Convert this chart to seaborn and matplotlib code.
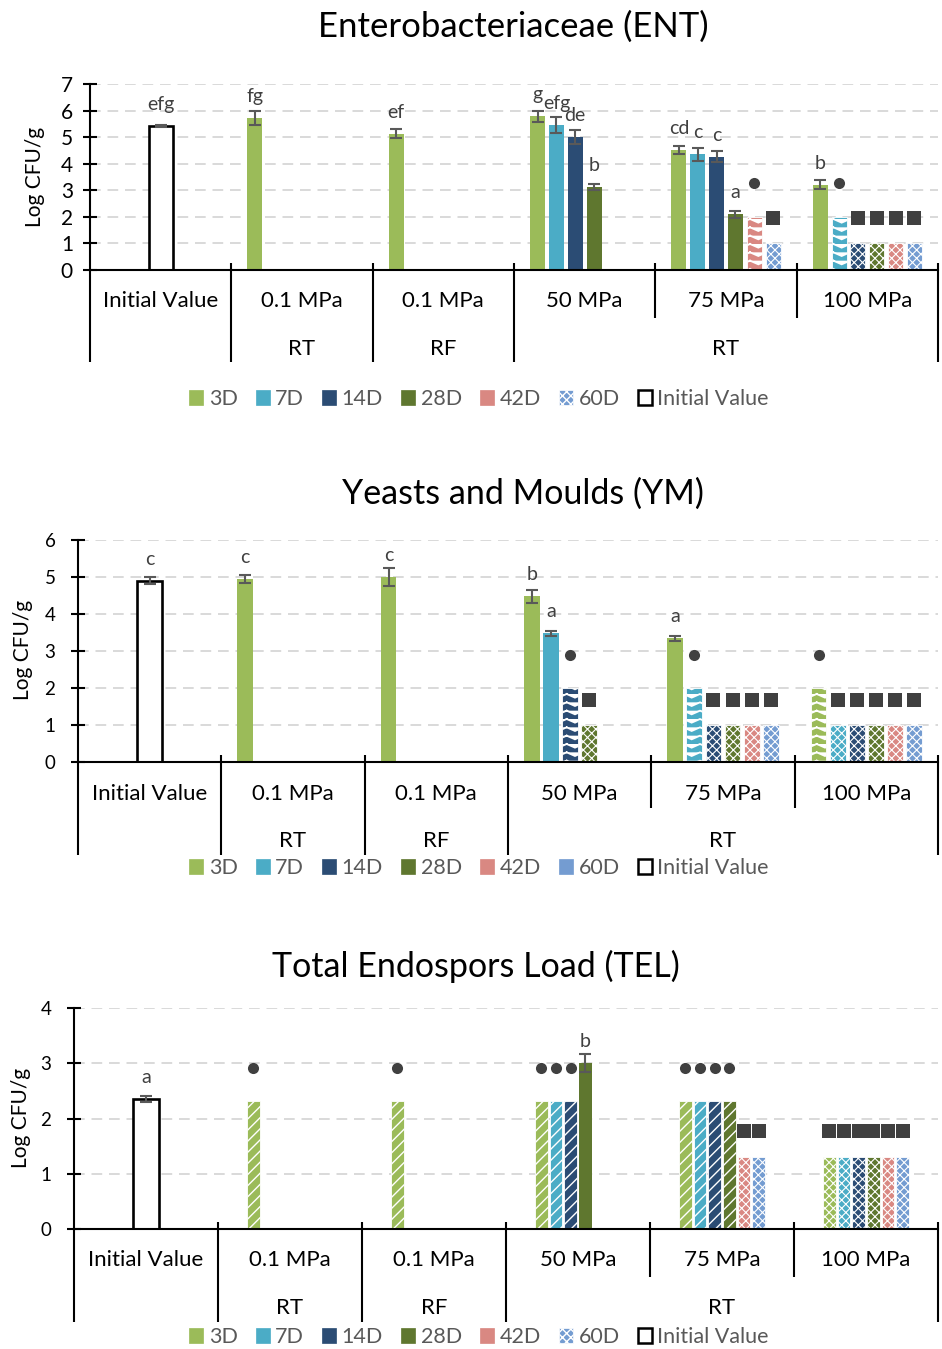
import warnings
import numpy as np
import pandas as pd
import matplotlib
matplotlib.use("Agg")
import matplotlib.pyplot as plt
import matplotlib.hatch as mhatch
import matplotlib.transforms as mtransforms
from matplotlib.path import Path
from matplotlib.patches import Patch
import seaborn as sns

warnings.filterwarnings("ignore")

# ---------------------------------------------------------------- data
groups = ["Initial Value", "0.1 MPa RT", "0.1 MPa RF", "50 MPa", "75 MPa", "100 MPa"]
group_labels = ["Initial Value", "0.1 MPa", "0.1 MPa", "50 MPa", "75 MPa", "100 MPa"]
storage = [None, "RT", "RF", "RT", "RT", "RT"]
days = ["3D", "7D", "14D", "28D", "42D", "60D"]

ent_group = ["0.1 MPa RT", "0.1 MPa RF"] + ["50 MPa"] * 4 + ["75 MPa"] * 6 + ["100 MPa"] * 6
ent_day = ["3D", "3D", "3D", "7D", "14D", "28D"] + days + days
ent_value = [5.72, 5.12, 5.78, 5.46, 5.00, 3.12,
             4.50, 4.35, 4.27, 2.09, 2.0, 1.0,
             3.21, 2.0, 1.0, 1.0, 1.0, 1.0]
ent_error = [0.27, 0.17, 0.21, 0.29, 0.26, 0.11,
             0.15, 0.25, 0.22, 0.12, 0, 0,
             0.18, 0, 0, 0, 0, 0]
ent_label = ["fg", "ef", "g", "efg", "de", "b",
             "cd", "c", "c", "a", "●", "■",
             "b", "●", "■", "■", "■", "■"]
ent_initial = (5.43, 0.03, "efg")

ym_group = ["0.1 MPa RT", "0.1 MPa RF"] + ["50 MPa"] * 4 + ["75 MPa"] * 6 + ["100 MPa"] * 6
ym_day = ["3D", "3D", "3D", "7D", "14D", "28D"] + days + days
ym_value = [4.94, 4.99, 4.48, 3.48, 2.0, 1.0,
            3.34, 2.0, 1.0, 1.0, 1.0, 1.0,
            2.0, 1.0, 1.0, 1.0, 1.0, 1.0]
ym_error = [0.11, 0.24, 0.17, 0.07, 0, 0,
            0.06, 0, 0, 0, 0, 0,
            0, 0, 0, 0, 0, 0]
ym_label = ["c", "c", "b", "a", "●", "■",
            "a", "●", "■", "■", "■", "■",
            "●", "■", "■", "■", "■", "■"]
ym_initial = (4.90, 0.10, "c")

tel_group = ["0.1 MPa RT", "0.1 MPa RF"] + ["50 MPa"] * 4 + ["75 MPa"] * 6 + ["100 MPa"] * 6
tel_day = ["3D", "3D", "3D", "7D", "14D", "28D"] + days + days
tel_value = [2.31, 2.31, 2.31, 2.31, 2.31, 3.01,
             2.31, 2.31, 2.31, 2.31, 1.31, 1.31,
             1.31, 1.31, 1.31, 1.31, 1.31, 1.31]
tel_error = [0, 0, 0, 0, 0, 0.16,
             0, 0, 0, 0, 0, 0,
             0, 0, 0, 0, 0, 0]
tel_label = ["●", "●", "●", "●", "●", "b",
             "●", "●", "●", "●", "■", "■",
             "■", "■", "■", "■", "■", "■"]
tel_initial = (2.35, 0.05, "a")

day_colors = {"3D": "#9BBB59", "7D": "#4BACC6", "14D": "#2B4C74",
              "28D": "#5F772F", "42D": "#D98882", "60D": "#749CD1"}


# ---------------------------------------------------------------- zigzag hatch ('v')
class ChevronHatch(mhatch.HatchPatternBase):
    def __init__(self, hatch, density):
        n = hatch.count("v")
        self.num_rows = int(n * density)
        self.num_cols = int(density) if n else 0
        self.num_vertices = self.num_rows * self.num_cols * 3

    def set_vertices_and_codes(self, vertices, codes):
        dy = 1.0 / self.num_rows
        dx = 1.0 / self.num_cols
        k = 0
        for r in range(self.num_rows):
            ytop = (r + 0.5) * dy + 0.22 * dy
            ybot = ytop - 0.44 * dy
            for c in range(self.num_cols):
                vertices[k] = (c * dx, ytop)
                vertices[k + 1] = ((c + 0.5) * dx, ybot)
                vertices[k + 2] = ((c + 1) * dx, ytop)
                codes[k] = Path.MOVETO
                codes[k + 1] = Path.LINETO
                codes[k + 2] = Path.LINETO
                k += 3


mhatch._hatch_types.append(ChevronHatch)

# ---------------------------------------------------------------- style
sns.set_theme(style="white")
plt.rcParams["font.family"] = ["Lato", "DejaVu Sans"]
plt.rcParams["hatch.linewidth"] = 1.0

FIG_W, FIG_H = 942, 1349
fig = plt.figure(figsize=(FIG_W / 100, FIG_H / 100), dpi=100)


def fx(px):
    return px / FIG_W


def fy(py):
    return 1 - py / FIG_H


TEXT_DARK = "#404040"
CHECK_HATCH = "xxxx"
HATCH_WIDTH = {"vv": 1.3, "///": 1.0, CHECK_HATCH: 0.8}

panels = [
    dict(title="Enterobacteriaceae (ENT)", title_xy=(513, 27), box=(90, 84, 938, 270), ymax=7,
         sep_mid=318, sep_bot=362, row1=301, row2=349, legend_y=399, ylabel_xy=(35, 177),
         tick_size=15, tick_pad=7, width=0.8, gap=0.2, init_width=0.17, dot_hatch="vv",
         title_size=25, legend_check=True,
         data=(ent_group, ent_day, ent_value, ent_error, ent_label, ent_initial)),
    dict(title="Yeasts and Moulds (YM)", title_xy=(523, 494), box=(78, 540, 938, 762), ymax=6,
         sep_mid=808, sep_bot=855, row1=794, row2=841, legend_y=868, ylabel_xy=(23, 650),
         tick_size=13.5, tick_pad=11, width=0.8, gap=0.17, init_width=0.17, dot_hatch="vv",
         title_size=24.5, legend_check=False,
         data=(ym_group, ym_day, ym_value, ym_error, ym_label, ym_initial)),
    dict(title="Total Endospors Load (TEL)", title_xy=(476, 966), box=(74, 1008, 938, 1229), ymax=4,
         sep_mid=1277, sep_bot=1322, row1=1260, row2=1308, legend_y=1337, ylabel_xy=(21, 1118),
         tick_size=13.5, tick_pad=11, width=0.61, gap=0.13, init_width=0.175, dot_hatch="///",
         title_size=24.5, legend_check=True,
         data=(tel_group, tel_day, tel_value, tel_error, tel_label, tel_initial)),
]

for p in panels:
    left, top, right, bottom = p["box"]
    ax = fig.add_axes([fx(left), fy(bottom), fx(right) - fx(left), fy(top) - fy(bottom)])
    g_col, d_col, v_col, e_col, l_col, (init_v, init_e, init_l) = p["data"]
    df = pd.DataFrame({"group": g_col, "day": d_col, "value": v_col,
                       "err": e_col, "label": l_col})

    sns.barplot(data=df, x="group", y="value", hue="day", order=groups, hue_order=days,
                palette=day_colors, width=p["width"], gap=p["gap"], errorbar=None,
                saturation=1, linewidth=0, legend=False, ax=ax, zorder=2)

    bars = list(ax.patches)
    slot = p["width"] / len(days)
    centers, tops = [], []
    for _, row in df.iterrows():
        gi = groups.index(row["group"])
        di = days.index(row["day"])
        cx = gi + (di - (len(days) - 1) / 2) * slot
        patch = min(bars, key=lambda b: abs(b.get_x() + b.get_width() / 2 - cx)
                    + abs(b.get_height() - row["value"]))
        cx = patch.get_x() + patch.get_width() / 2
        centers.append(cx)
        tops.append(patch.get_height())
        hatch = None
        if row["label"] == "●":
            hatch = p["dot_hatch"]
        elif row["label"] == "■":
            hatch = CHECK_HATCH
        if hatch:
            patch.set_hatch(hatch)
            patch.set_edgecolor("white")
            patch.set_linewidth(0.6)
            if hasattr(patch, "set_hatch_linewidth"):
                patch.set_hatch_linewidth(HATCH_WIDTH[hatch])
    df["cx"] = centers
    df["top"] = tops

    # initial value bar (its own series, centred in the first group)
    sns.barplot(x=["Initial Value"], y=[init_v], order=groups, color="white",
                width=p["init_width"], errorbar=None, saturation=1,
                edgecolor="black", linewidth=1.9, ax=ax, zorder=2)

    # error bars
    err = df[df["err"] > 0]
    ebx = list(err["cx"]) + [0]
    eby = list(err["value"]) + [init_v]
    ebe = list(err["err"]) + [init_e]
    ax.errorbar(ebx, eby, yerr=ebe, fmt="none", ecolor="#595959", elinewidth=1.5,
                capsize=4.6, capthick=1.5, zorder=3)

    # letter labels and detection-limit markers
    dot_tr = mtransforms.offset_copy(ax.transData, fig=fig, x=0, y=33.5, units="dots")
    sq_tr = mtransforms.offset_copy(ax.transData, fig=fig, x=0, y=25.5, units="dots")
    for _, row in df.iterrows():
        if row["label"] == "●":
            ax.plot([row["cx"]], [row["top"]], marker="o", ms=8.0, color=TEXT_DARK,
                    mew=0, transform=dot_tr, clip_on=False, zorder=4)
        elif row["label"] == "■":
            ax.plot([row["cx"]], [row["top"]], marker="s", ms=9.4, color=TEXT_DARK,
                    mew=0, transform=sq_tr, clip_on=False, zorder=4)
        else:
            ax.annotate(row["label"], xy=(row["cx"], row["top"]), xytext=(0, 11.5),
                        textcoords="offset points", ha="center", va="baseline",
                        fontsize=14, color=TEXT_DARK, zorder=4)
    ax.annotate(init_l, xy=(0, init_v), xytext=(0, 11.5), textcoords="offset points",
                ha="center", va="baseline", fontsize=14, color=TEXT_DARK, zorder=4)

    # axes styling
    ax.set_xlim(-0.5, len(groups) - 0.5)
    ax.set_ylim(0, p["ymax"])
    ax.set_yticks(range(0, p["ymax"] + 1))
    ax.yaxis.grid(True, color="#D9D9D9", linewidth=1.4, linestyle=(0, (5.5, 3.5)))
    ax.xaxis.grid(False)
    ax.set_axisbelow(True)
    ax.set_xlabel("")
    ax.set_ylabel("")
    for side in ("top", "right"):
        ax.spines[side].set_visible(False)
    for side in ("left", "bottom"):
        ax.spines[side].set_color("black")
        ax.spines[side].set_linewidth(1.5)
    ax.tick_params(axis="y", direction="inout", length=10.5, width=1.5, color="black",
                   labelsize=p["tick_size"], labelcolor="black", pad=p["tick_pad"], left=True)
    ax.tick_params(axis="x", bottom=False, labelbottom=False)

    # two-level category axis
    span = bottom - top

    def frac(py):
        return (bottom - py) / span

    xt = ax.get_xaxis_transform()
    line_kw = dict(color="black", lw=1.5, clip_on=False, solid_capstyle="butt", transform=xt)
    ax.plot([-0.5, -0.5], [0, frac(p["sep_bot"])], **line_kw)
    for gi in range(len(groups)):
        xb = gi + 0.5
        nxt = storage[gi + 1] if gi + 1 < len(groups) else None
        same_run = storage[gi] is not None and nxt == storage[gi] and gi >= 3
        end = p["sep_mid"] if same_run else p["sep_bot"]
        ax.plot([xb, xb], [frac(bottom - 7), frac(end)], **line_kw)
        ax.text(gi, frac(p["row1"]), group_labels[gi], transform=xt, ha="center",
                va="center", fontsize=16, color="black")
    # storage labels, merged over consecutive RT groups under pressure
    runs = [[1], [2], [3, 4, 5]]
    for run in runs:
        ax.text(np.mean(run), frac(p["row2"]), storage[run[0]], transform=xt,
                ha="center", va="center", fontsize=16, color="black")

    fig.text(fx(p["ylabel_xy"][0]), fy(p["ylabel_xy"][1]), "Log CFU/g", rotation=90,
             ha="center", va="center", fontsize=15, color="black")
    fig.text(fx(p["title_xy"][0]), fy(p["title_xy"][1]), p["title"], ha="center",
             va="center", fontsize=p["title_size"], color="black")

    # legend
    handles = []
    for d in days:
        if d == "60D" and p["legend_check"]:
            handles.append(Patch(facecolor=day_colors[d], edgecolor="white",
                                 hatch=CHECK_HATCH, linewidth=0.5))
        else:
            handles.append(Patch(facecolor=day_colors[d], edgecolor=day_colors[d], linewidth=0.5))
    handles.append(Patch(facecolor="white", edgecolor="black", linewidth=1.8))
    fig.legend(handles, days + ["Initial Value"], loc="center",
               bbox_to_anchor=(fx(479), fy(p["legend_y"])), ncol=7, frameon=False,
               fontsize=15.5, labelcolor="#595959", handlelength=0.65, handleheight=0.65,
               handletextpad=0.25, columnspacing=0.85, borderpad=0)

fig.savefig("out.png", dpi=100)
